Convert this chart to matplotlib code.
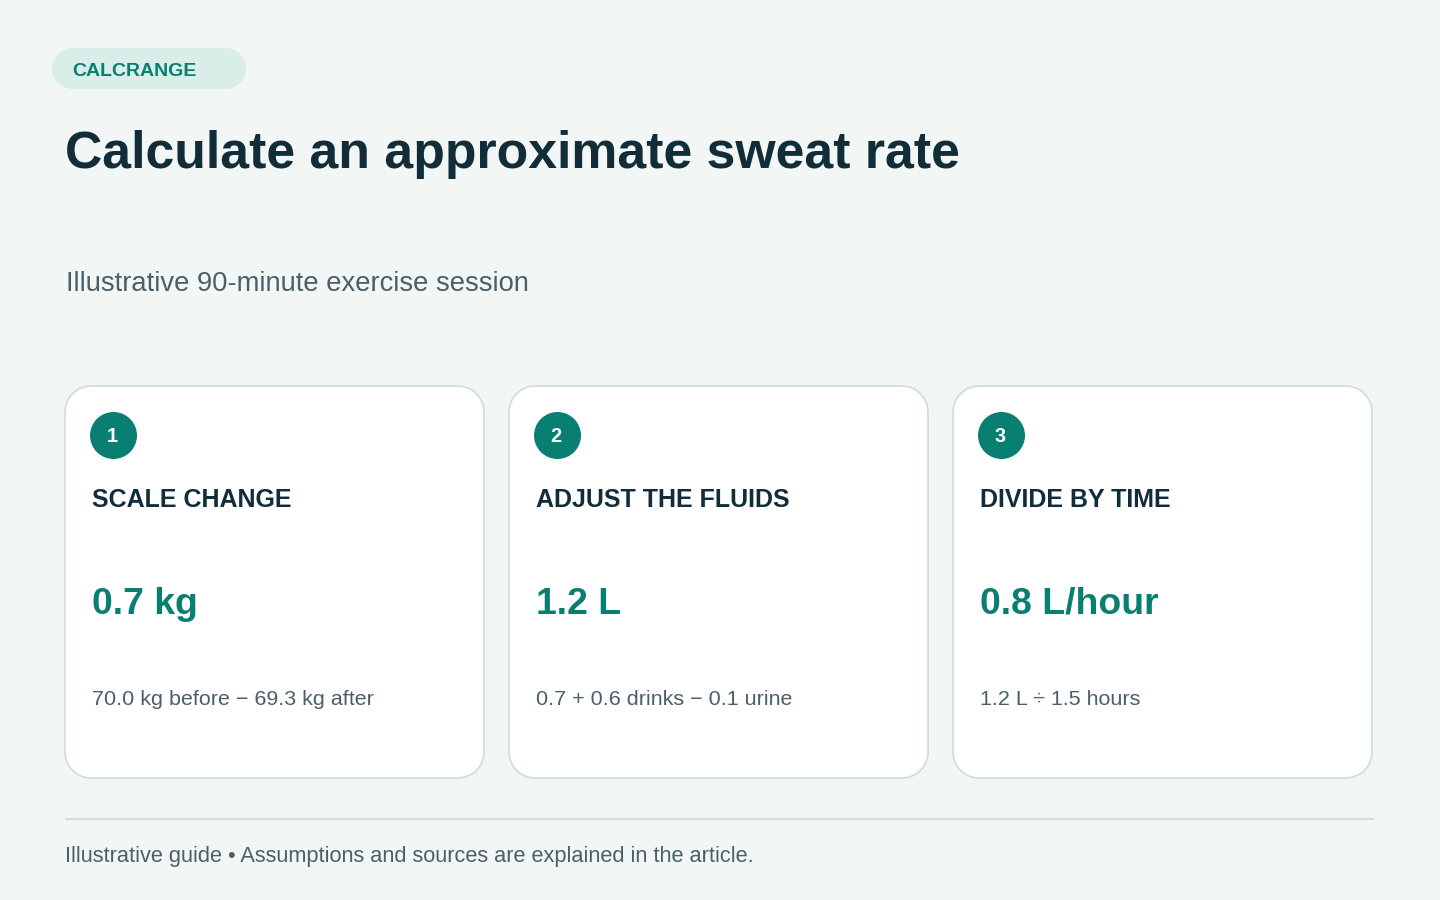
import matplotlib
matplotlib.use("Agg")
import matplotlib.pyplot as plt
from matplotlib.patches import PathPatch, Circle, Rectangle
from matplotlib.path import Path

BG = "#f2f6f5"
DARK = "#102d39"
GREEN = "#087f71"
GREY = "#4a5f69"
BORDER = "#cfdeda"

badge = "CALCRANGE"
title = "Calculate an approximate sweat rate"
subtitle = "Illustrative 90-minute exercise session"
steps = ["1", "2", "3"]
headings = ["SCALE CHANGE", "ADJUST THE FLUIDS", "DIVIDE BY TIME"]
values = ["0.7 kg", "1.2 L", "0.8 L/hour"]
notes = ["70.0 kg before \u2212 69.3 kg after",
         "0.7 + 0.6 drinks \u2212 0.1 urine",
         "1.2 L \u00f7 1.5 hours"]
footer = "Illustrative guide \u2022 Assumptions and sources are explained in the article."

plt.rcParams["font.family"] = ["Liberation Sans", "DejaVu Sans"]

fig = plt.figure(figsize=(14.4, 9), dpi=100, facecolor=BG)
ax = fig.add_axes([0, 0, 1, 1])
ax.set_xlim(0, 1440)
ax.set_ylim(900, 0)
ax.axis("off")


def round_box(x, y, w, h, r, **kw):
    # true circular corners, FancyBboxPatch's round style looks too square
    c = r * 0.4477
    x2 = x + w
    y2 = y + h
    verts = [(x + r, y), (x2 - r, y),
             (x2 - c, y), (x2, y + c), (x2, y + r), (x2, y2 - r),
             (x2, y2 - c), (x2 - c, y2), (x2 - r, y2), (x + r, y2),
             (x + c, y2), (x, y2 - c), (x, y2 - r), (x, y + r),
             (x, y + c), (x + c, y), (x + r, y), (x + r, y)]
    codes = [Path.MOVETO, Path.LINETO,
             Path.CURVE4, Path.CURVE4, Path.CURVE4, Path.LINETO,
             Path.CURVE4, Path.CURVE4, Path.CURVE4, Path.LINETO,
             Path.CURVE4, Path.CURVE4, Path.CURVE4, Path.LINETO,
             Path.CURVE4, Path.CURVE4, Path.CURVE4, Path.CLOSEPOLY]
    ax.add_patch(PathPatch(Path(verts, codes), **kw))


def label(x, y, s, px, color, weight="normal", ha="left"):
    ax.text(x, y, s, fontsize=px * 0.72, color=color, fontweight=weight,
            ha=ha, va="baseline")


# header
round_box(52, 48, 194, 41, 20.5, fc="#daeee9", ec="none")
label(72.5, 75.5, badge, 19.5, GREEN, "bold")
label(65, 168, title, 51.77, DARK, "bold")
label(66, 291, subtitle, 27.36, GREY)

# cards
card_x = [65, 509, 953]
for i in range(3):
    x = card_x[i]
    round_box(x, 386, 419, 392, 26, fc="white", ec=BORDER, lw=1.25)
    ax.add_patch(Circle((x + 48.5, 435.5), 23.5, fc=GREEN, ec="none"))
    label(x + 46.8, 442, steps[i], 20, "white", "bold", ha="center")
    label(x + 27, 507, headings[i], 25.05, DARK, "bold")
    label(x + 27, 614, values[i], 37.4, GREEN, "bold")
    label(x + 27, 705, notes[i], 21.5, GREY)

# footer
ax.add_patch(Rectangle((65, 818), 1309, 2, fc=BORDER, ec="none"))
label(65, 862, footer, 21.75, GREY)

fig.savefig("out.png", dpi=100, facecolor=BG)
